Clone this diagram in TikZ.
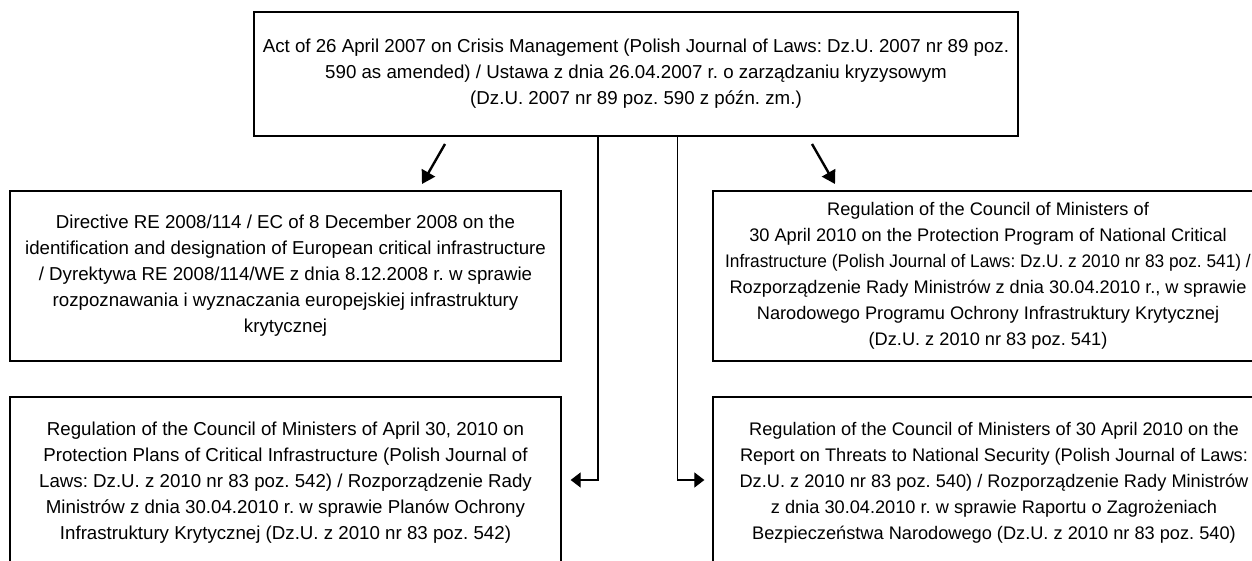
\documentclass[tikz,border=0pt]{standalone}
\usepackage{fontspec}
\setmainfont{Liberation Sans}
\usetikzlibrary{arrows.meta,calc}
\begin{document}
\frenchspacing
\begin{tikzpicture}[x=1pt,y=-1pt,
  box/.style={draw=black, line width=1.3pt, inner sep=0pt},
  txt/.style={inner sep=0pt, align=center,
    font=\fontsize{18.7}{26}\selectfont\frenchspacing, text=black},
  rtxt/.style={txt, font=\fontsize{18.2}{26}\selectfont\frenchspacing},
  conn/.style={draw=black, line width=1.2pt, -{Triangle[length=10pt,width=15pt]}},
  diag/.style={draw=black, line width=2.4pt, -{Triangle[length=13pt,width=15pt]}}]
\useasboundingbox (0,0) rectangle (1252,561);
\clip (0,0) rectangle (1252,561);

% boxes
\node[box, minimum width=764pt, minimum height=124pt] (act) at (636,74) {};
\node[box, minimum width=551pt, minimum height=170pt] (dir) at (285.5,276) {};
\node[box, minimum width=550pt, minimum height=170pt] (r541) at (988,276) {};
\node[box, minimum width=551pt, minimum height=172pt] (r542) at (285.5,483) {};
\node[box, minimum width=562pt, minimum height=172pt] (r540) at (994,483) {};

% texts
\node[txt] (tact) at (act.center)
  {Act of 26 April 2007 on Crisis Management (Polish Journal of Laws: Dz.U. 2007 nr 89 poz.\\
   590 as amended) / Ustawa z dnia 26.04.2007 r. o zarządzaniu kryzysowym\\
   (Dz.U. 2007 nr 89 poz. 590 z późn. zm.)};

\node[txt] (tdir) at (dir.center)
  {Directive RE 2008/114 / EC of 8 December 2008 on the\\
   identification and designation of European critical infrastructure\\
   / Dyrektywa RE 2008/114/WE z dnia 8.12.2008 r. w sprawie\\
   rozpoznawania i wyznaczania europejskiej infrastruktury\\
   krytycznej};

\node[rtxt] (t541) at (r541.center)
  {Regulation of the Council of Ministers of\\
   30 April 2010 on the Protection Program of National Critical\\
   \scalebox{0.95}[1]{Infrastructure (Polish Journal of Laws: Dz.U. z 2010 nr 83 poz. 541) /}\\
   Rozporządzenie Rady Ministrów z dnia 30.04.2010 r., w sprawie\\
   Narodowego Programu Ochrony Infrastruktury Krytycznej\\
   (Dz.U. z 2010 nr 83 poz. 541)};

\node[txt] (t542) at (r542.center)
  {Regulation of the Council of Ministers of April 30, 2010 on\\
   Protection Plans of Critical Infrastructure (Polish Journal of\\
   Laws: Dz.U. z 2010 nr 83 poz. 542) / Rozporządzenie Rady\\
   Ministrów z dnia 30.04.2010 r. w sprawie Planów Ochrony\\
   Infrastruktury Krytycznej (Dz.U. z 2010 nr 83 poz. 542)};

\node[rtxt] (t540) at (r540.center)
  {Regulation of the Council of Ministers of 30 April 2010 on the\\
   Report on Threats to National Security (Polish Journal of Laws:\\
   Dz.U. z 2010 nr 83 poz. 540) / Rozporządzenie Rady Ministrów\\
   z dnia 30.04.2010 r. w sprawie Raportu o Zagrożeniach\\
   Bezpieczeństwa Narodowego (Dz.U. z 2010 nr 83 poz. 540)};

% connectors
\coordinate (v1) at (598,0);
\coordinate (v2) at (677.5,0);
\draw[conn] (act.south -| v1) |- ($(r542.east)+(9,-3)$);
\draw[conn] (act.south -| v2) |- ($(r540.west)+(-8,-3)$);

\coordinate (d1s) at (445,144);
\coordinate (d1e) at (422,184);
\coordinate (d2s) at (812,144);
\coordinate (d2e) at (835,184);
\draw[diag] (d1s) -- (d1e);
\draw[diag] (d2s) -- (d2e);
\end{tikzpicture}
\end{document}
